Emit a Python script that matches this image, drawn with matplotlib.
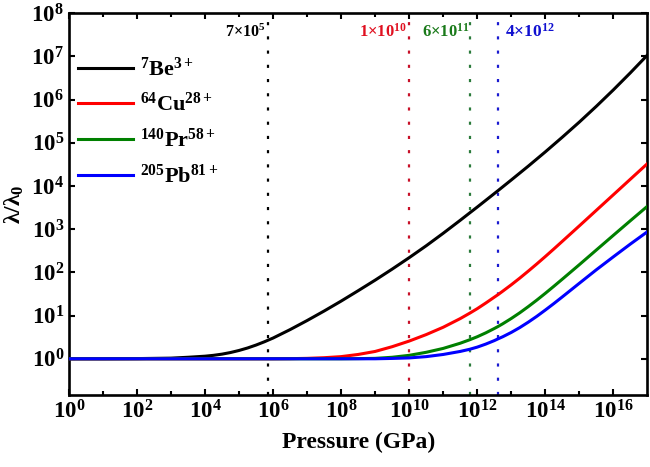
import numpy as np
import matplotlib
matplotlib.use("Agg")
import matplotlib.pyplot as plt
from matplotlib.ticker import NullFormatter, NullLocator
from matplotlib.transforms import blended_transform_factory

plt.rcParams['font.family'] = 'Liberation Serif'
plt.rcParams['font.weight'] = 'bold'
plt.rcParams['mathtext.fontset'] = 'custom'
plt.rcParams['mathtext.rm'] = 'Liberation Serif:bold'
plt.rcParams['mathtext.it'] = 'Liberation Serif:italic:bold'
plt.rcParams['mathtext.bf'] = 'Liberation Serif:bold'
plt.rcParams['mathtext.default'] = 'regular'

# pressures (GPa) and lambda/lambda0
p_be = [1, 10, 100, 1e3, 3.16e3, 1e4, 1.78e4, 3.16e4, 5.62e4, 1e5, 1.78e5,
        3.16e5, 5.62e5, 7e5, 1e6, 3.16e6, 1e7, 3.16e7, 1e8, 3.16e8, 1e9,
        3.16e9, 1e10, 3.16e10, 1e11, 3.16e11, 6e11, 1e12, 4e12, 1e13,
        3.16e13, 1e14, 3.16e14, 1e15, 3.16e15, 1e16, 3.16e16, 1e17]
be = [1.0, 1.0, 1.01, 1.035, 1.084, 1.148, 1.202, 1.281, 1.396, 1.558, 1.778,
      2.078, 2.483, 2.679, 3.020, 4.732, 7.674, 12.74, 21.63, 37.58, 66.07,
      118.9, 218.8, 412.1, 803.5, 1603, 2377, 3243, 7691, 13740,
      28710, 61380, 134300, 300600, 696600, 1.671e6, 4.150e6, 1.067e7]

p_cu = [1, 1e6, 3.16e6, 1e7, 3.16e7, 1e8, 3.16e8, 1e9, 3.16e9, 1e10, 3.16e10,
        1e11, 3.16e11, 6e11, 1e12, 1.78e12, 3.16e12, 4e12, 5.62e12, 1e13,
        1.78e13, 3.16e13, 5.62e13, 1e14, 1.78e14, 3.16e14, 1e15, 3.16e15,
        1e16, 3.16e16, 1e17]
cu = [1, 1, 1.007, 1.023, 1.059, 1.122, 1.259, 1.479, 1.905, 2.570, 3.631,
      5.370, 8.511, 11.35, 14.45, 19.50, 26.61, 30.20, 36.73, 51.58,
      73.71, 106.9, 156.7, 232.3, 347.5, 523.0, 1191, 2729,
      6252, 14320, 32810]

p_pr = [1, 1e8, 3.16e8, 1e9, 3.16e9, 1e10, 3.16e10, 1e11, 3.16e11, 6e11, 1e12,
        1.78e12, 3.16e12, 4e12, 5.62e12, 1e13, 1.78e13, 3.16e13, 5.62e13,
        1e14, 1.78e14, 3.16e14, 1e15, 3.16e15, 1e16, 3.16e16, 1e17]
pr = [1, 1, 1.009, 1.023, 1.084, 1.202, 1.413, 1.738, 2.291, 2.754, 3.236,
      3.981, 5.012, 5.534, 6.457, 8.562, 11.61, 16.13, 22.78,
      32.73, 47.59, 69.58, 150.5, 329.3, 720.4, 1567, 3388]

p_pb = [1, 1e9, 3.16e9, 1e10, 3.16e10, 1e11, 3.16e11, 6e11, 1e12, 1.78e12,
        3.16e12, 4e12, 5.62e12, 1e13, 1.78e13, 3.16e13, 5.62e13, 1e14,
        1.78e14, 3.16e14, 1e15, 3.16e15, 1e16, 3.16e16, 1e17]
pb = [1, 1, 1.019, 1.047, 1.122, 1.259, 1.479, 1.660, 1.862, 2.188,
      2.630, 2.871, 3.236, 4.074, 5.280, 7.041, 9.605, 13.42,
      18.95, 27.07, 55.91, 114.8, 229.1, 451.9, 871.0]

labels = [r'$^{7}$Be$^{3+}$', r'$^{64}$Cu$^{28+}$',
          r'$^{140}$Pr$^{58+}$', r'$^{205}$Pb$^{81+}$']
colors = ['black', '#ff0000', '#008000', '#0000ff']

# threshold pressures marked by dotted lines
p_mark = [7e5, 1e10, 6e11, 4e12]
mark_text = ['7×10$^{5}$', '1×10$^{10}$', '6×10$^{11}$', '4×10$^{12}$']
mark_line_col = ['black', '#c81028', '#2a7a3a', '#1a1ad0']
mark_text_col = ['black', '#e01020', '#1a7a1a', '#1010d0']

fig = plt.figure(figsize=(6.5, 4.67), dpi=100)
ax = fig.add_axes([0.106, 0.154, 0.89, 0.818])

for pm, c in zip(p_mark, mark_line_col):
    ax.axvline(pm, color=c, lw=1.6, linestyle=(0, (1.4, 5)), zorder=1)

ax.plot(p_be, be, color=colors[0], lw=2.2, label=labels[0], zorder=3)
ax.plot(p_cu, cu, color=colors[1], lw=2.2, label=labels[1], zorder=3)
ax.plot(p_pr, pr, color=colors[2], lw=2.2, label=labels[2], zorder=3)
ax.plot(p_pb, pb, color=colors[3], lw=2.2, label=labels[3], zorder=3)

trans = blended_transform_factory(ax.transData, ax.transAxes)
ax.text(p_mark[0] * 0.85, 0.950, mark_text[0], color=mark_text_col[0],
        fontsize=11.5, ha='right', va='center', transform=trans)
ax.text(p_mark[1] * 0.85, 0.950, mark_text[1], color=mark_text_col[1],
        fontsize=12, ha='right', va='center', transform=trans)
ax.text(p_mark[2] * 0.97, 0.950, mark_text[2], color=mark_text_col[2],
        fontsize=12, ha='right', va='center', transform=trans)
ax.text(p_mark[3] * 1.6, 0.950, mark_text[3], color=mark_text_col[3],
        fontsize=12.5, ha='left', va='center', transform=trans)

ax.set_xscale('log')
ax.set_yscale('log')
ax.set_xlim(1, 1e17)
ax.set_ylim(10 ** -0.84, 1e8)
ax.set_xticks([10.0 ** k for k in range(0, 17, 2)])
ax.set_xticks([10.0 ** k for k in range(1, 17, 2)], minor=True)
ax.xaxis.set_minor_formatter(NullFormatter())
ax.set_yticks([10.0 ** k for k in range(0, 9)])
ax.yaxis.set_minor_locator(NullLocator())
ax.tick_params(which='both', direction='in', top=True, right=True,
               labelsize=16.5, width=1.5)
ax.tick_params(which='major', length=4.5)
ax.tick_params(which='minor', length=3)
for s in ax.spines.values():
    s.set_linewidth(1.9)

ax.set_xlabel('Pressure (GPa)', fontsize=17, fontweight='bold', labelpad=6)
ax.set_ylabel('λ/λ$_0$', fontsize=17, fontweight='bold', labelpad=4)

ax.legend(loc='upper left', bbox_to_anchor=(-0.012, 0.925), frameon=False,
          fontsize=16, handlelength=2.5, labelspacing=0.56, handletextpad=0.3,
          borderaxespad=0.3)

fig.savefig('out.png', dpi=100)
